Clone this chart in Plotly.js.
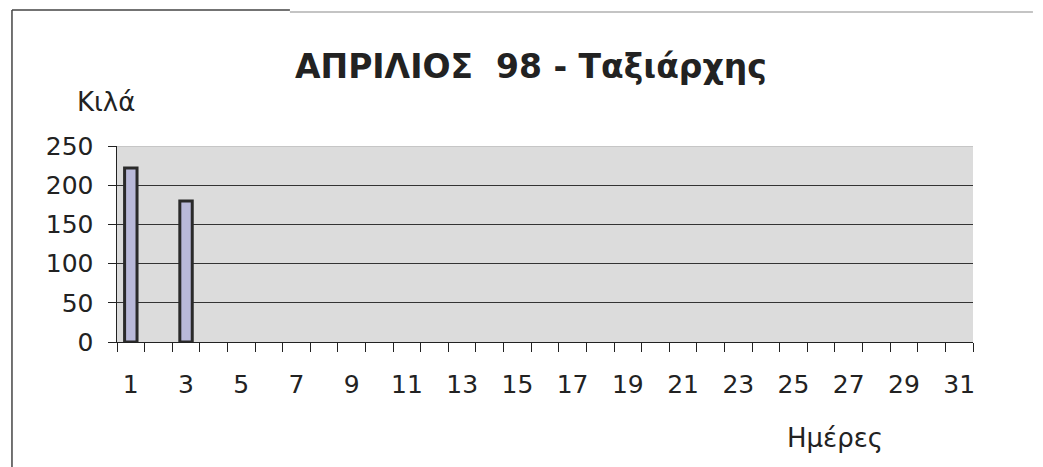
<!DOCTYPE html>
<html>
<head>
<meta charset="utf-8">
<script src="https://cdn.plot.ly/plotly-3.0.1.min.js"></script>
<style>html,body{margin:0;padding:0;background:#fff;}</style>
</head>
<body>
<div id="chart" style="width:1043px;height:467px;"></div>
<script>
const days = [1,2,3,4,5,6,7,8,9,10,11,12,13,14,15,16,17,18,19,20,21,22,23,24,25,26,27,28,29,30];
const kilos = [222,0,180,0,0,0,0,0,0,0,0,0,0,0,0,0,0,0,0,0,0,0,0,0,0,0,0,0,0,0];
const tickLabels = [1,3,5,7,9,11,13,15,17,19,21,23,25,27,29,31];
const yTicks = [0,50,100,150,200,250];
const titleText = 'ΑΠΡΙΛΙΟΣ  98 - Ταξιάρχης';
const yTitle = 'Κιλά';
const xTitle = 'Ημέρες';

const bx = days.filter((d,i)=>kilos[i]>0);
const by = kilos.filter(v=>v>0);

const trace = {
  type:'bar', x:bx, y:by, width:0.45,
  marker:{color:'#b9b9d9', line:{color:'#2a2a2a', width:3}},
  hoverinfo:'x+y'
};

const font = '"DejaVu Sans", Arial, sans-serif';
const layout = {
  width:1043, height:467,
  margin:{l:117, r:70, t:146, b:125},
  paper_bgcolor:'#ffffff', plot_bgcolor:'#dcdcdc',
  showlegend:false,
  font:{family:font, color:'#222', size:25},
  title:{text:'<b>'+titleText+'</b>', font:{family:font, size:33, color:'#222'},
         xref:'container', x:0.509, xanchor:'center', yref:'container', y:0.857, yanchor:'middle'},
  xaxis:{range:[0.5,31.5], tickmode:'array', tickvals:tickLabels, ticktext:tickLabels.map(String),
         ticks:'', showgrid:false, zeroline:false, showline:true, linecolor:'#222', linewidth:1,
         ticklabelstandoff:20, tickfont:{size:25, color:'#222'},
         minor:{tickmode:'linear', tick0:0.5, dtick:1, ticks:'outside', ticklen:9, tickcolor:'#222', tickwidth:1, showgrid:false}},
  yaxis:{range:[0,250], tickmode:'array', tickvals:yTicks, ticks:'outside', ticklen:8, tickcolor:'#222',
         showline:true, linecolor:'#222', linewidth:1.5, showgrid:true, gridcolor:'#333', gridwidth:1,
         zeroline:false, tickfont:{size:25, color:'#222'}, ticklabelstandoff:9},
  annotations:[
    {text:yTitle, xref:'paper', yref:'paper', x:-0.013, y:1.225, xanchor:'center', yanchor:'middle', showarrow:false, font:{size:26, color:'#222'}},
    {text:xTitle, xref:'paper', yref:'paper', x:0.839, y:-0.49, xanchor:'center', yanchor:'middle', showarrow:false, font:{size:26, color:'#222'}}
  ],
  shapes:[
    {type:'line', xref:'paper', yref:'paper', x0:-0.1227, x1:-0.1227, y0:1.694, y1:-0.64, line:{color:'#444', width:1.5}},
    {type:'line', xref:'paper', yref:'paper', x0:-0.1227, x1:0.202, y0:1.694, y1:1.694, line:{color:'#444', width:1.5}},
    {type:'line', xref:'paper', yref:'paper', x0:0.202, x1:1.07, y0:1.684, y1:1.684, line:{color:'#b0b0b0', width:1.5}},
    {type:'line', xref:'paper', yref:'y', x0:0, x1:1, y0:250, y1:250, line:{color:'#b0b0b0', width:1}, layer:'above'}
  ]
};
Plotly.newPlot('chart',[trace],layout,{displayModeBar:false, staticPlot:true});
</script>
</body>
</html>
